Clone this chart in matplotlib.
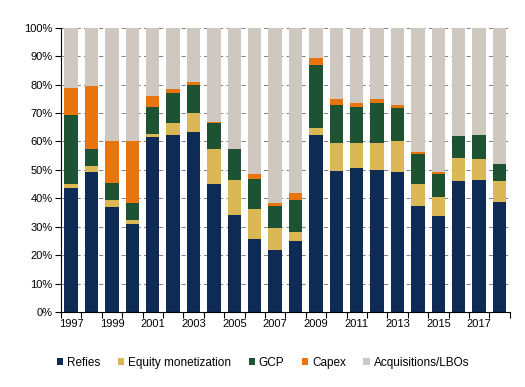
import numpy as np
import matplotlib
matplotlib.use('Agg')
from matplotlib import pyplot as plt
from matplotlib.ticker import PercentFormatter

years = list(range(1997, 2019))
refies = [43.8, 49.3, 37.0, 31.0, 61.6, 62.3, 63.4, 45.2, 34.2, 25.8, 21.8,
          25.0, 62.3, 49.6, 50.6, 50.0, 49.1, 37.3, 33.8, 46.1, 46.5, 38.7]
equity = [1.4, 1.9, 2.4, 1.2, 1.0, 4.2, 6.7, 12.2, 12.3, 10.6, 7.8,
          3.2, 2.5, 10.0, 9.0, 9.6, 10.9, 7.9, 6.5, 8.2, 7.4, 7.4]
gcp = [24.2, 6.3, 6.0, 6.3, 9.6, 10.5, 9.7, 9.1, 10.7, 10.4, 7.7,
       11.2, 22.3, 13.1, 12.6, 14.0, 11.8, 10.4, 8.4, 7.6, 8.4, 6.0]
capex = [9.6, 22.1, 14.9, 21.8, 3.9, 1.6, 1.2, 0.4, 0.2, 1.7, 1.2,
         2.3, 2.3, 2.3, 1.5, 1.5, 1.2, 0.7, 0.7, 0.2, 0.0, 0.0]
series_names = ['Refies', 'Equity monetization', 'GCP', 'Capex', 'Acquisitions/LBOs']
colors = ['#0d2b55', '#dcb755', '#1d5233', '#e8740e', '#cfc8c1']

acq = [100 - r - e - g - c for r, e, g, c in zip(refies, equity, gcp, capex)]

plt.rcParams['font.family'] = ['Liberation Sans', 'DejaVu Sans']

fig = plt.figure(figsize=(5.25, 3.87), dpi=100)
ax = fig.add_axes([0.116, 0.194, 0.855, 0.734])

x = np.arange(len(years))
bottom = np.zeros(len(years))
for vals, name, col in zip([refies, equity, gcp, capex, acq], series_names, colors):
    ax.bar(x, vals, width=0.66, bottom=bottom, color=col, label=name, zorder=2)
    bottom += np.array(vals)

ax.set_ylim(0, 100)
ax.set_xlim(-0.5, len(years) - 0.5)
ax.set_yticks(np.arange(0, 101, 10))
ax.yaxis.set_major_formatter(PercentFormatter(decimals=0))
ax.yaxis.grid(True, linestyle=(0, (5, 4)), color='#6e6e6e', linewidth=0.6, zorder=0)

ax.set_xticks(x[::2])
ax.set_xticklabels([str(y) for y in years[::2]])
ax.set_xticks(np.arange(-0.5, len(years), 1), minor=True)
ax.tick_params(axis='x', which='major', length=0, labelsize=8, pad=5)
ax.tick_params(axis='x', which='minor', length=4, width=0.8, direction='out')
ax.tick_params(axis='y', length=4, width=0.8, labelsize=8, pad=2)

for s in ['top', 'right']:
    ax.spines[s].set_visible(False)
for s in ['left', 'bottom']:
    ax.spines[s].set_linewidth(0.8)

ax.legend(loc='upper center', bbox_to_anchor=(0.45, -0.12), ncol=5, frameon=False,
          fontsize=8.5, handlelength=0.55, handleheight=0.55, handletextpad=0.3,
          columnspacing=1.5)

fig.savefig('out.png', dpi=100)
